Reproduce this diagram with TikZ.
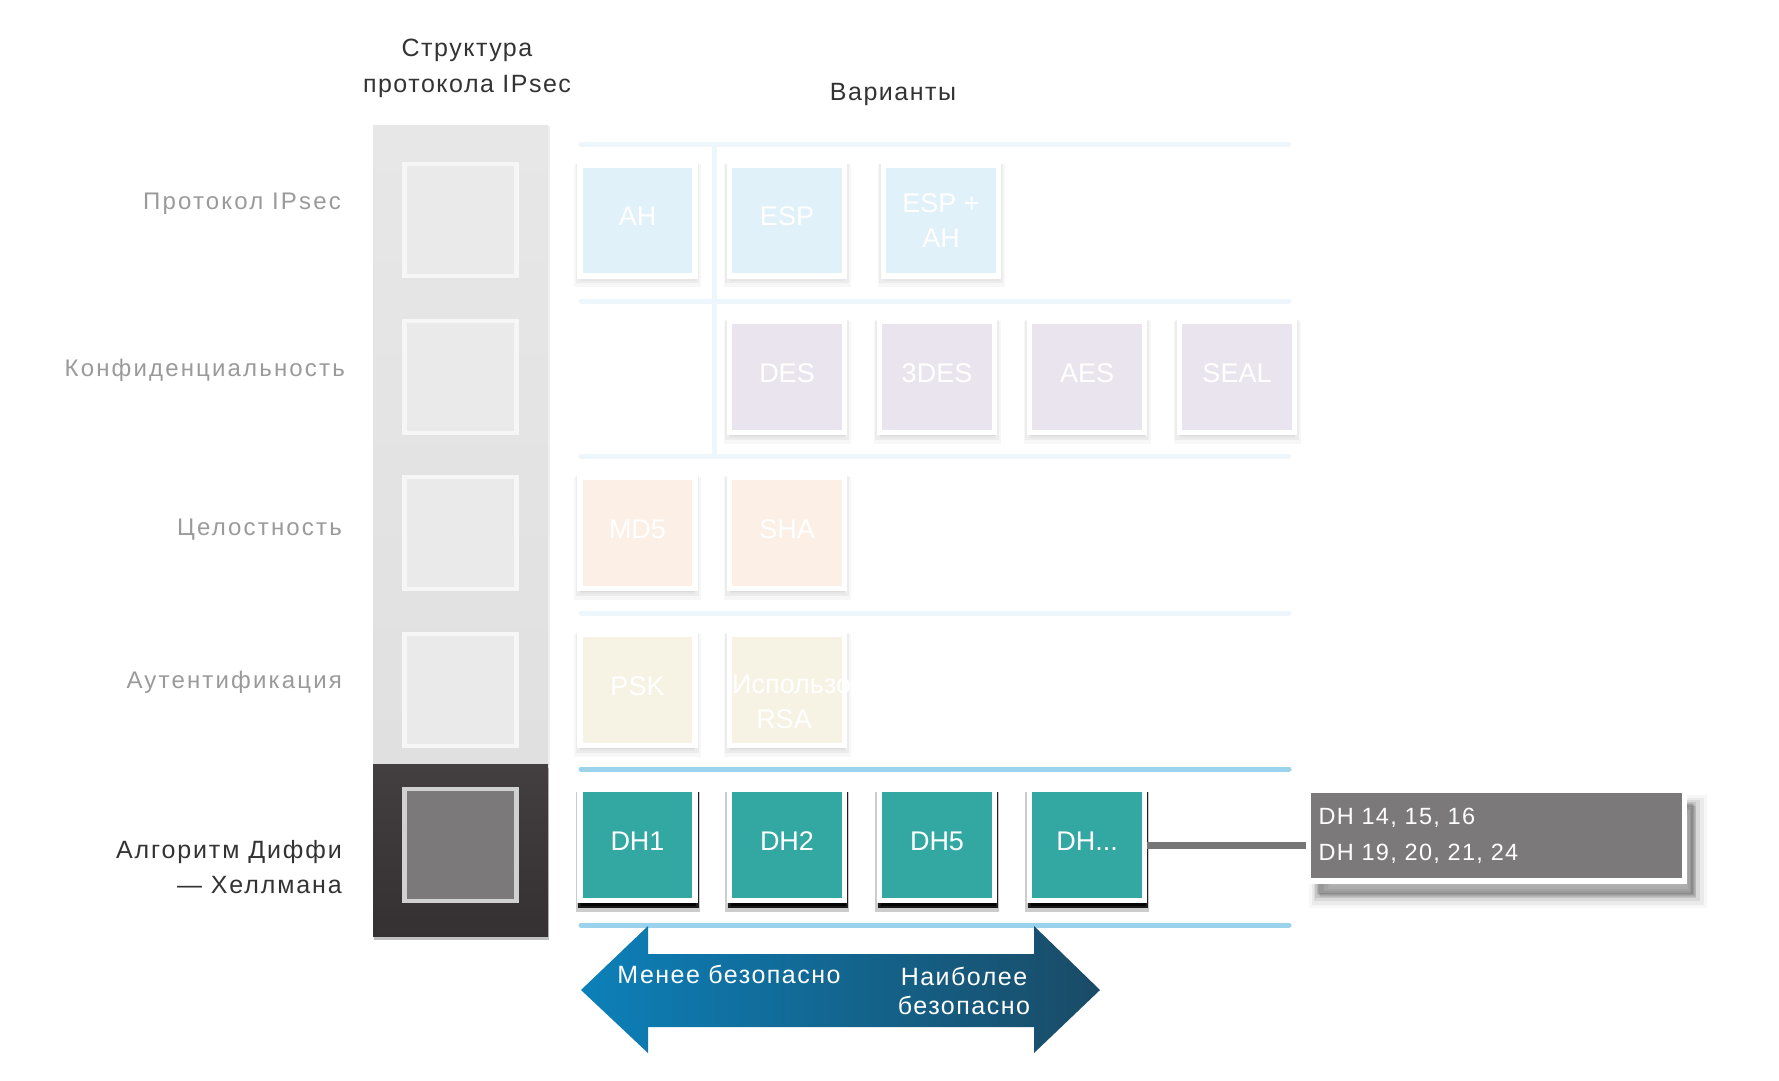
\documentclass[tikz,border=0pt]{standalone}
\usepackage{fontspec}
\setmainfont{Liberation Sans}
\newfontfamily\hdfont[LetterSpace=6]{Liberation Sans}
\newfontfamily\lblfont[LetterSpace=9]{Liberation Sans}
\newfontfamily\dhlfont[LetterSpace=7.5]{Liberation Sans}
\newfontfamily\callfont[LetterSpace=5.5]{Liberation Sans}
\newfontfamily\arrfont[LetterSpace=6]{Liberation Sans}
\definecolor{gridL}{HTML}{EDF6FB}
\definecolor{gridB}{HTML}{9BD3EC}
\definecolor{blueF}{HTML}{E0F1F9}
\definecolor{purpF}{HTML}{EAE4EF}
\definecolor{peachF}{HTML}{FCEFE5}
\definecolor{creamF}{HTML}{F6F3E4}
\definecolor{tealF}{HTML}{33A8A2}
\definecolor{callF}{HTML}{7B797A}
\definecolor{connC}{HTML}{777777}
\definecolor{labG}{HTML}{9A9A9A}
\definecolor{darkT}{HTML}{333333}
\definecolor{colT}{HTML}{E7E7E7}
\definecolor{colB}{HTML}{E0E0E0}
\definecolor{colDT}{HTML}{433F40}
\definecolor{colDB}{HTML}{353132}
\definecolor{cellF}{HTML}{EAEAEA}
\definecolor{cellD}{HTML}{F6F6F6}
\definecolor{arrL}{HTML}{0C80B9}
\definecolor{arrR}{HTML}{1A4B66}
\begin{document}
\begin{tikzpicture}[x=1pt,y=-1pt,
  softsh/.style={
    preaction={fill=black, draw=black, opacity=0.03, line width=12pt, transform canvas={yshift=-5pt}},
    preaction={fill=black, draw=black, opacity=0.045, line width=8.5pt, transform canvas={yshift=-3pt}}},
  darksh/.style={
    preaction={fill=black, draw=black, opacity=0.2, line width=9pt, transform canvas={yshift=-7pt}},
    preaction={fill=black, draw=black, opacity=0.85, line width=5.5pt, transform canvas={xshift=1pt, yshift=-5pt}}},
  optbox/.style={draw=white, line width=5.5pt, minimum width=115pt, minimum height=111pt,
    inner sep=0pt, text=white, align=center, font=\fontsize{27}{35}\selectfont, softsh},
  one/.style={text height=20pt, text depth=10pt},
  dhbox/.style={draw=white, line width=5.5pt, minimum width=115pt, minimum height=111pt,
    inner sep=0pt, text=white, align=center, font=\fontsize{27}{35}\selectfont, fill=tealF, darksh, one},
  cell/.style={draw=cellD, line width=4.5pt, fill=cellF, minimum width=112pt, minimum height=112pt, inner sep=0pt},
  gline/.style={line width=5pt, line cap=round, draw=gridL},
  bline/.style={line width=5pt, line cap=round, draw=gridB},
  rowlab/.style={anchor=east, inner sep=0pt, text=labG, font=\lblfont\fontsize{24}{28}\selectfont},
  head/.style={inner sep=0pt, text=darkT, align=center, font=\hdfont\fontsize{25}{36}\selectfont},
  arrtxt/.style={inner sep=0pt, text=white, align=center, font=\arrfont\fontsize{25}{29}\selectfont}
]
\useasboundingbox (0,0) rectangle (1779,1080);

% headers
\node[head] (hstruct) at (467,68) {Структура\\протокола IPsec};
\node[head] (hvar) at (893,94) {Варианты};

% left column
\node[draw=none, minimum width=175pt, minimum height=639pt, inner sep=0pt,
  top color=colT, bottom color=colB,
  preaction={fill=black, opacity=0.06, transform canvas={xshift=2pt, yshift=-1pt}}] (colup) at (460.5,444.5) {};
\node[draw=none, minimum width=175pt, minimum height=172pt, inner sep=0pt,
  top color=colDT, bottom color=colDB,
  preaction={fill=black, opacity=0.25, transform canvas={xshift=1pt, yshift=-4pt}}] (coldn) at (460.5,850) {};
\node[cell] (c1) at (460.5,220) {};
\node[cell] (c2) at (460.5,377) {};
\node[cell] (c3) at (460.5,533) {};
\node[cell] (c4) at (460.5,690) {};
\node[cell, draw=cellD!85!black, fill=callF] (c5) at (460.5,845) {};

% grid lines
\coordinate (g1a) at (581,144); \coordinate (g1b) at (1289,144);
\coordinate (g2a) at (581,301); \coordinate (g2b) at (1289,301);
\coordinate (g3a) at (581,456); \coordinate (g3b) at (1289,456);
\coordinate (g4a) at (581,613); \coordinate (g4b) at (1289,613);
\coordinate (g5a) at (581,769); \coordinate (g5b) at (1289,769);
\coordinate (g6a) at (581,925); \coordinate (g6b) at (1289,925);
\coordinate (v1a) at (714.5,144); \coordinate (v1b) at (714.5,456);
\draw[gline] (g1a) -- (g1b);
\draw[gline] (g2a) -- (g2b);
\draw[gline] (g3a) -- (g3b);
\draw[gline] (g4a) -- (g4b);
\draw[gline] (v1a) -- (v1b);
\draw[bline] (g5a) -- (g5b);
\draw[bline] (g6a) -- (g6b);

% row labels
\node[rowlab] (l1) at (341,204) {Протокол IPsec};
\node[rowlab] (l2) at (345,370) {Конфиденциальность};
\node[rowlab] (l3) at (342,530) {Целостность};
\node[rowlab] (l4) at (342,682) {Аутентификация};
\node[anchor=east, inner sep=0pt, text=darkT, align=right, font=\dhlfont\fontsize{25}{35}\selectfont] (l5) at (342,867) {Алгоритм Диффи\\— Хеллмана};

% row 1
\node[optbox, one, fill=blueF] (ah) at (637.5,220.5) {AH};
\node[optbox, one, fill=blueF] (esp) at (787,220.5) {ESP};
\node[optbox, fill=blueF] (espah) at (941,220.5) {ESP +\\AH};
% row 2
\node[optbox, one, fill=purpF] (des) at (787,377) {DES};
\node[optbox, one, fill=purpF] (tdes) at (937,377) {3DES};
\node[optbox, one, fill=purpF] (aes) at (1087,377) {AES};
\node[optbox, one, fill=purpF] (seal) at (1237,377) {SEAL};
% row 3
\node[optbox, one, fill=peachF] (md5) at (637.5,533) {MD5};
\node[optbox, one, fill=peachF] (sha) at (787,533) {SHA};
% row 4
\node[optbox, one, fill=creamF] (psk) at (637.5,690) {PSK};
\node[optbox, fill=creamF] (rsa) at (787,690) {};
\node[anchor=west, inner sep=0pt, text=white, font=\fontsize{27}{35}\selectfont] (rsa1) at (732,684) {Использовать};
\node[inner sep=0pt, text=white, font=\fontsize{27}{35}\selectfont] (rsa2) at (784,719) {RSA};
% row 5
\node[dhbox] (dh1) at (637.5,845) {DH1};
\node[dhbox] (dh2) at (787,845) {DH2};
\node[dhbox] (dh5) at (937,845) {DH5};
\node[dhbox] (dhx) at (1087,845) {DH...};

% callout
\node[draw=white, line width=5.5pt, fill=callF, minimum width=376pt, minimum height=91pt,
  text width=356pt, align=left, inner sep=0pt, text=white, font=\callfont\fontsize{23.5}{36}\selectfont,
  preaction={fill=black, draw=black, opacity=0.03, line width=22pt, transform canvas={xshift=11pt, yshift=-16pt}},
  preaction={fill=black, draw=black, opacity=0.05, line width=16pt, transform canvas={xshift=11pt, yshift=-16pt}},
  preaction={fill=black, draw=black, opacity=0.07, line width=10pt, transform canvas={xshift=10pt, yshift=-15pt}},
  preaction={fill=black, draw=black, opacity=0.09, line width=5pt, transform canvas={xshift=9pt, yshift=-14pt}},
  preaction={fill=black, opacity=0.10, transform canvas={xshift=8pt, yshift=-13pt}}] (call) at (1496.5,835.5)
  {DH 14, 15, 16\\DH 19, 20, 21, 24};
\draw[line width=7pt, draw=connC] (dhx.east) -- (dhx.east -| call.west);

% double arrow
\coordinate (atipL) at (581,990);
\coordinate (atipR) at (1100,990);
\shade[left color=arrL, right color=arrR]
  (atipL) -- (648,926) -- (648,954) -- (1034,954) -- (1034,926) -- (atipR)
  -- (1034,1053) -- (1034,1027) -- (648,1027) -- (648,1053) -- cycle;
\node[arrtxt] (less) at (729,974) {Менее безопасно};
\node[arrtxt] (most) at (964,991) {Наиболее\\безопасно};
\end{tikzpicture}
\end{document}
